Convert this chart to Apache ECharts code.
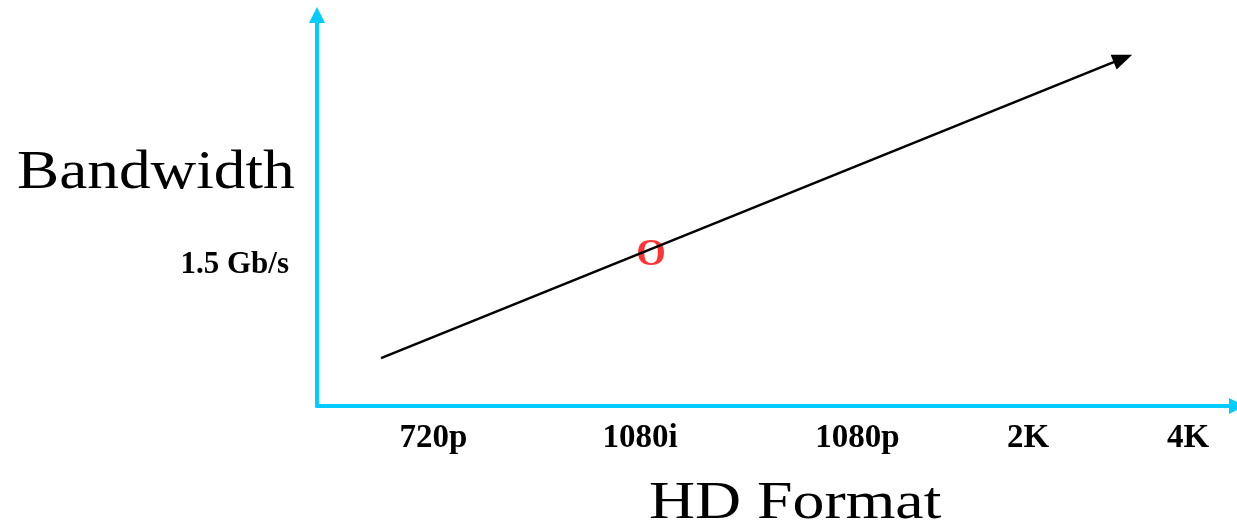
<!DOCTYPE html>
<html>
<head>
<meta charset="utf-8">
<script src="https://cdn.jsdelivr.net/npm/echarts@6/dist/echarts.min.js"></script>
<style>
html,body{margin:0;padding:0;background:#fff;}
#main{width:1237px;height:532px;}
</style>
</head>
<body>
<div id="main"></div>
<script>
// ---- data ----
var xTickLabels = ['720p', '1080i', '1080p', '2K', '4K'];
var xTickValues = [12.66, 35.11, 58.75, 77.28, 94.67];
var yTickLabels = ['1.5 Gb/s'];
var yTickValues = [36.0];
var trendStart = [6.96, 12.25];
var trendEnd = [87.6, 88.9];
var markerPoint = [36.3, 38.6];
var markerText = 'O';

var axisColor = '#00CCFF';
var serif = '"Liberation Serif", "Times New Roman", serif';

var chart = echarts.init(document.getElementById('main'));
chart.setOption({
  animation: false,
  backgroundColor: '#fff',
  grid: { left: 317, right: 0, top: 15, bottom: 126 },
  xAxis: {
    type: 'value', min: 0, max: 100,
    splitLine: { show: false },
    axisTick: { show: false },
    axisLine: {
      show: true, onZero: false,
      lineStyle: { color: axisColor, width: 4 },
      symbol: ['none', 'triangle'], symbolSize: [16, 16]
    },
    axisLabel: {
      customValues: xTickValues,
      formatter: function (v) { var i = xTickValues.indexOf(v); return i >= 0 ? xTickLabels[i] : ''; },
      color: '#000', fontFamily: serif, fontWeight: 'bold', fontSize: 33, margin: 16
    }
  },
  yAxis: {
    type: 'value', min: 0, max: 100,
    splitLine: { show: false },
    axisTick: { show: false },
    axisLine: {
      show: true, onZero: false,
      lineStyle: { color: axisColor, width: 4 },
      symbol: ['none', 'triangle'], symbolSize: [16, 16]
    },
    axisLabel: {
      customValues: yTickValues,
      formatter: function (v) { var i = yTickValues.indexOf(v); return i >= 0 ? yTickLabels[i] : ''; },
      color: '#000', fontFamily: serif, fontWeight: 'bold', fontSize: 31, margin: 28
    }
  },
  graphic: [
    { type: 'text', x: 17, y: 174, scaleX: 1.15,
      style: { x: 0, y: 0, text: 'Bandwidth', font: '55px ' + serif, fill: '#000', align: 'left', verticalAlign: 'middle' } },
    { type: 'text', x: 649, y: 504, scaleX: 1.227,
      style: { x: 0, y: 0, text: 'HD Format', font: '52px ' + serif, fill: '#000', align: 'left', verticalAlign: 'middle' } }
  ],
  series: [
    {
      type: 'line', data: [], silent: true,
      markLine: {
        silent: true,
        symbol: ['none', 'triangle'], symbolSize: [16, 20],
        label: { show: false },
        lineStyle: { color: '#000', width: 2.5, type: 'solid' },
        data: [[{ coord: trendStart }, { coord: trendEnd }]]
      }
    },
    {
      type: 'scatter', silent: true,
      data: [markerPoint],
      symbolSize: 1,
      itemStyle: { color: 'rgba(0,0,0,0)' },
      label: {
        show: true, position: 'inside', formatter: markerText,
        color: '#ff0000', fontFamily: serif, fontWeight: 'bold', fontSize: 38
      }
    }
  ]
});
</script>
</body>
</html>
